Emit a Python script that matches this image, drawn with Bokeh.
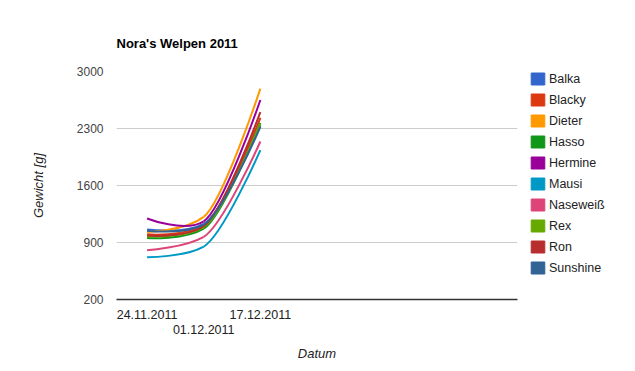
from bokeh.plotting import figure
from bokeh.layouts import row
from bokeh.models import Range1d, FixedTicker, LinearAxis, Legend, LegendItem
from bokeh.embed import file_html
from bokeh.resources import INLINE

# ---- data ----
dates = ["24.11.2011", "01.12.2011", "17.12.2011"]
date_pos = [0, 1, 2]
names = ["Balka", "Blacky", "Dieter", "Hasso", "Hermine", "Mausi",
         "Naseweiß", "Rex", "Ron", "Sunshine"]
colors = ["#3366cc", "#dc3912", "#ff9900", "#109618", "#990099", "#0099c6",
          "#dd4477", "#66aa00", "#b82e2e", "#316395"]
w_start = [1060, 1000, 1030, 955, 1195, 720, 805, 975, 985, 1045]
w_mid = [1130, 1110, 1215, 1070, 1160, 850, 970, 1090, 1100, 1120]
w_end = [2340, 2430, 2790, 2370, 2650, 2035, 2140, 2360, 2500, 2320]
y_ticks = [200, 900, 1600, 2300, 3000]

FONT = "Liberation Sans"
H = 365
FRAME_TOP = 71
FRAME_BOTTOM = 299

p = figure(width=529, height=H, output_backend="svg", toolbar_location=None,
           x_range=Range1d(-0.54, 6.54), y_range=Range1d(200, 3000),
           min_border_left=116, min_border_right=12, min_border_top=FRAME_TOP,
           min_border_bottom=H - FRAME_BOTTOM, title="Nora's Welpen 2011")
p.outline_line_color = None
p.background_fill_color = "white"
p.border_fill_color = "white"

p.title.text_font = FONT
p.title.text_font_size = "13px"
p.title.text_font_style = "bold"
p.title.text_color = "#000000"
p.title.align = "left"
p.title.standoff = 41

# grid
p.xgrid.visible = False
p.ygrid.ticker = FixedTicker(ticks=y_ticks)
p.ygrid.grid_line_color = "#cccccc"

# y axis
ya = p.yaxis[0]
ya.ticker = FixedTicker(ticks=y_ticks)
ya.axis_line_color = None
ya.major_tick_line_color = None
ya.minor_tick_line_color = None
ya.major_tick_out = 0
ya.major_label_standoff = 13
ya.major_label_text_font = FONT
ya.major_label_text_font_size = "12px"
ya.major_label_text_color = "#444444"
ya.axis_label = "Gewicht [g]"
ya.axis_label_text_font = FONT
ya.axis_label_text_font_size = "13px"
ya.axis_label_text_font_style = "italic"
ya.axis_label_text_color = "#222222"
ya.axis_label_standoff = 28

# x axis (first row of labels)
xa = p.xaxis[0]
xa.ticker = FixedTicker(ticks=[date_pos[0], date_pos[2]])
xa.major_label_overrides = {date_pos[0]: dates[0], date_pos[2]: dates[2]}
xa.axis_line_color = "#333333"
xa.axis_line_width = 1.5
xa.major_tick_line_color = None
xa.minor_tick_line_color = None
xa.major_tick_out = 0
xa.major_label_standoff = 10
xa.major_label_text_font = FONT
xa.major_label_text_font_size = "12.5px"
xa.major_label_text_color = "#222222"

# x axis (second, staggered row)
xa2 = LinearAxis(ticker=FixedTicker(ticks=[date_pos[1]]),
                 major_label_overrides={date_pos[1]: dates[1]})
xa2.axis_line_color = None
xa2.major_tick_line_color = None
xa2.minor_tick_line_color = None
xa2.major_tick_out = 0
xa2.major_label_standoff = 3
xa2.major_label_text_font = FONT
xa2.major_label_text_font_size = "12.5px"
xa2.major_label_text_color = "#222222"
xa2.axis_label = "Datum"
xa2.axis_label_text_font = FONT
xa2.axis_label_text_font_size = "13px"
xa2.axis_label_text_font_style = "italic"
xa2.axis_label_text_color = "#222222"
xa2.axis_label_standoff = 9
p.add_layout(xa2, "below")

# smoothed lines (cubic Bezier segments through the data points)
kx = 1.0 / 6.0
ky = 0.1
for name, c, s, m, e in zip(names, colors, w_start, w_mid, w_end):
    xs = date_pos
    ys = [s, m, e]
    dx = kx * (xs[2] - xs[0])
    dy = ky * (ys[2] - ys[0])
    p.bezier(x0=[xs[0], xs[1]], y0=[ys[0], ys[1]],
             x1=[xs[1], xs[2]], y1=[ys[1], ys[2]],
             cx0=[xs[0], xs[1] + dx], cy0=[ys[0], ys[1] + dy],
             cx1=[xs[1] - dx, xs[2]], cy1=[ys[1] - dy, ys[2]],
             line_color=c, line_width=2)

# legend in a separate panel on the right (its frame is aligned with the chart's)
p2 = figure(width=95, height=H, output_backend="svg", toolbar_location=None,
            x_range=Range1d(0, 1), y_range=Range1d(0, 1),
            x_axis_location=None, y_axis_location=None,
            min_border_left=0, min_border_right=0, min_border_top=FRAME_TOP,
            min_border_bottom=H - FRAME_BOTTOM)
p2.outline_line_color = None
p2.xgrid.visible = False
p2.ygrid.visible = False
p2.background_fill_color = "white"
p2.border_fill_color = "white"

items = []
for name, c in zip(names, colors):
    r = p2.quad(left=[0.5], right=[0.5], top=[0.5], bottom=[0.5],
                fill_color=c, line_color=c, fill_alpha=1.0)
    items.append(LegendItem(label=name, renderers=[r]))

legend_h = 10 * 15 + 9 * 6
legend = Legend(items=items, location=(0, (FRAME_BOTTOM - FRAME_TOP) - legend_h))
legend.glyph_width = 17
legend.glyph_height = 15
legend.label_height = 15
legend.spacing = 6
legend.padding = 0
legend.margin = 0
legend.label_standoff = 3
legend.border_line_color = None
legend.background_fill_alpha = 0
legend.label_text_font = FONT
legend.label_text_font_size = "12.5px"
legend.label_text_color = "#222222"
p2.add_layout(legend)

layout = row(p, p2)
open("out.html", "w").write(file_html(layout, INLINE))
